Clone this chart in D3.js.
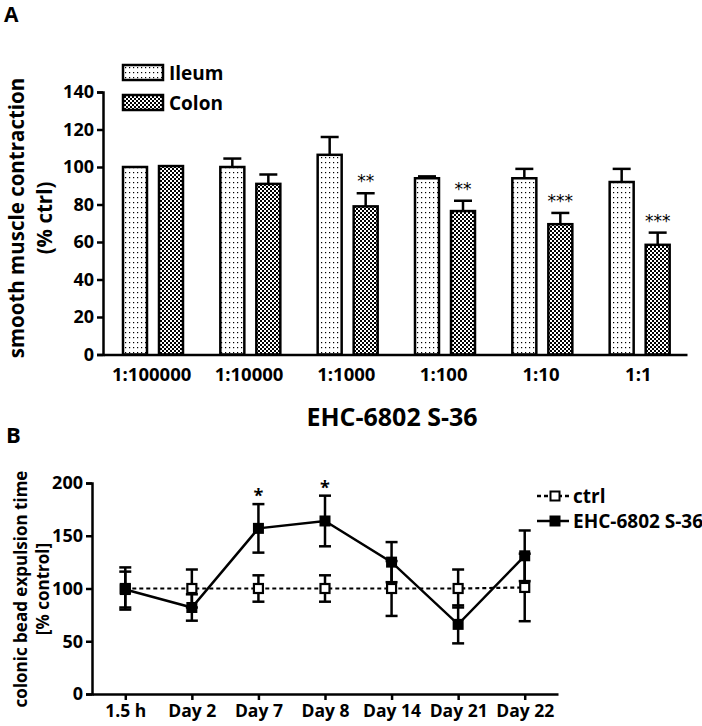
<!DOCTYPE html>
<html><head><meta charset="utf-8">
<script src="https://cdn.jsdelivr.net/npm/d3@7"></script>
<style>
body{margin:0;background:#fff}
svg{display:block}
text{font-family:'Open Sans',sans-serif;font-weight:700;fill:#000}
</style></head>
<body><svg id="c" width="702" height="726"></svg>
<script>
// ---------- Panel A data ----------
const dilutions = ["1:100000","1:10000","1:1000","1:100","1:10","1:1"];
const seriesA = ["Ileum","Colon"];
const ileum    = [100, 100, 106.5, 94, 94, 92];
const ileumErr = [0, 4.5, 9.5, 1, 5, 7];
const colon    = [100.5, 91, 79, 76.5, 69.5, 58.5];
const colonErr = [0, 5, 7, 5.5, 6, 6.5];
const colonSig = ["", "", "**", "**", "***", "***"];
const ticksA   = [0,20,40,60,80,100,120,140];

// ---------- Panel B data ----------
const days    = ["1.5 h","Day 2","Day 7","Day 8","Day 14","Day 21","Day 22"];
const ctrl    = [100, 100, 100, 100, 100, 100, 101];
const ctrlErr = [20, 18, 12.5, 12.5, 26, 18, 32];
const ehc     = [99, 82, 157, 164, 125, 66, 131];
const ehcErr  = [17, 12.5, 23, 24, 19, 18, 24];
const ehcSig  = ["", "", "*", "*", "", "", ""];
const ticksB  = [0,50,100,150,200];

const svg = d3.select("#c");
const defs = svg.append("defs");
const pI = defs.append("pattern").attr("id","dots").attr("patternUnits","userSpaceOnUse")
  .attr("width",4).attr("height",5);
pI.append("rect").attr("width",4).attr("height",5).attr("fill","#fff");
pI.append("rect").attr("x",1).attr("y",2).attr("width",1.2).attr("height",1.2).attr("fill","#000");
const pC = defs.append("pattern").attr("id","check").attr("patternUnits","userSpaceOnUse")
  .attr("width",4).attr("height",4);
pC.append("rect").attr("width",4).attr("height",4).attr("fill","#fff");
pC.append("rect").attr("x",0).attr("y",0).attr("width",2).attr("height",2).attr("fill","#000");
pC.append("rect").attr("x",2).attr("y",2).attr("width",2).attr("height",2).attr("fill","#000");
const fills = {Ileum:"url(#dots)", Colon:"url(#check)"};

function styleTicks(g, size){
  g.select(".domain").attr("stroke-width",2.5);
  g.selectAll(".tick line").attr("stroke-width",2.5);
  g.selectAll(".tick text").attr("font-size",size)
    .style("font-family","'Open Sans',sans-serif").style("font-weight",700).attr("fill","#000");
}

// ================= Panel A =================
const xA = d3.scaleBand().domain(dilutions).range([103,687]).padding(0);
const xA1 = d3.scaleBand().domain(seriesA).range([20,80]).paddingInner(1/3).paddingOuter(0);
const yA = d3.scaleLinear().domain([0,140]).range([354.5,92]);

svg.append("text").attr("x",4).attr("y",22).attr("font-size",21).text("A");

const gA = svg.append("g");
const rowsA = dilutions.map((d,i)=>[
  {cat:d,key:"Ileum",v:ileum[i],e:ileumErr[i],sig:""},
  {cat:d,key:"Colon",v:colon[i],e:colonErr[i],sig:colonSig[i]}
]).flat();

rowsA.forEach(r=>{
  const cx = xA(r.cat)+xA1(r.key)+xA1.bandwidth()/2;
  if(r.e>0){
    gA.append("line").attr("x1",cx).attr("x2",cx).attr("y1",yA(r.v)).attr("y2",yA(r.v+r.e))
      .attr("stroke","#000").attr("stroke-width",2.5);
    gA.append("line").attr("x1",cx-9).attr("x2",cx+9).attr("y1",yA(r.v+r.e)).attr("y2",yA(r.v+r.e))
      .attr("stroke","#000").attr("stroke-width",2.5);
  }
  if(r.sig){
    gA.append("text").attr("x",cx).attr("y",yA(r.v+r.e)-6).attr("text-anchor","middle")
      .attr("font-size",17).attr("fill","#000")
      .style("font-family","'DejaVu Sans',sans-serif").style("font-weight","400")
      .text(r.sig);
  }
});
gA.selectAll("rect.bar").data(rowsA).join("rect").attr("class","bar")
  .attr("x",r=>xA(r.cat)+xA1(r.key)).attr("width",xA1.bandwidth())
  .attr("y",r=>yA(r.v)).attr("height",r=>yA(0)-yA(r.v))
  .attr("fill",r=>fills[r.key]).attr("stroke","#000").attr("stroke-width",2.5);

const axA = svg.append("g").attr("transform","translate(103,0)")
  .call(d3.axisLeft(yA).tickValues(ticksA).tickSize(6).tickPadding(3));
styleTicks(axA, 18);

const axAx = svg.append("g").attr("transform","translate(0,354.5)")
  .call(d3.axisBottom(xA).tickSize(0).tickPadding(13));
styleTicks(axAx, 18.5);

svg.append("text").attr("transform","translate(24,218) rotate(-90)").attr("text-anchor","middle")
  .attr("font-size",20.5).text("smooth muscle contraction");
svg.append("text").attr("transform","translate(52,218) rotate(-90)").attr("text-anchor","middle")
  .attr("font-size",20.5).text("(% ctrl)");

seriesA.forEach((k,i)=>{
  const y0 = 65 + i*30;
  svg.append("rect").attr("x",123).attr("y",y0).attr("width",40).attr("height",15)
    .attr("fill",fills[k]).attr("stroke","#000").attr("stroke-width",2.5);
  svg.append("text").attr("x",169).attr("y",y0+15).attr("font-size",19).text(k);
});

svg.append("text").attr("x",392).attr("y",426).attr("text-anchor","middle").attr("font-size",25).text("EHC-6802 S-36");

// ================= Panel B =================
svg.append("text").attr("x",6).attr("y",443).attr("font-size",22).text("B");
const xB = d3.scalePoint().domain(days).range([92,558]).padding(0.5);
const yB = d3.scaleLinear().domain([0,200]).range([694,483]);

const axB = svg.append("g").attr("transform","translate(92,0)")
  .call(d3.axisLeft(yB).tickValues(ticksB).tickSize(6).tickPadding(3));
styleTicks(axB, 18);
const axBx = svg.append("g").attr("transform","translate(0,694)")
  .call(d3.axisBottom(xB).tickSize(6).tickPadding(5).tickSizeOuter(0));
styleTicks(axBx, 17.5);

svg.append("text").attr("transform","translate(27,589) rotate(-90)").attr("text-anchor","middle")
  .attr("font-size",17).text("colonic bead expulsion time");
svg.append("text").attr("transform","translate(49,589) rotate(-90)").attr("text-anchor","middle")
  .attr("font-size",17).text("[% control]");

const gB = svg.append("g");
const line = d3.line().x((d,i)=>xB(days[i])).y(d=>yB(d));
gB.append("path").datum(ctrl).attr("d",line).attr("fill","none").attr("stroke","#000")
  .attr("stroke-width",2.2).attr("stroke-dasharray","4,3");
gB.append("path").datum(ehc).attr("d",line).attr("fill","none").attr("stroke","#000")
  .attr("stroke-width",2.5);

function errBars(vals, errs){
  vals.forEach((v,i)=>{
    const cx = xB(days[i]);
    gB.append("line").attr("x1",cx).attr("x2",cx).attr("y1",yB(v-errs[i])).attr("y2",yB(v+errs[i]))
      .attr("stroke","#000").attr("stroke-width",2.5);
    [v-errs[i], v+errs[i]].forEach(e=>{
      gB.append("line").attr("x1",cx-6).attr("x2",cx+6).attr("y1",yB(e)).attr("y2",yB(e))
        .attr("stroke","#000").attr("stroke-width",2.5);
    });
  });
}
errBars(ctrl, ctrlErr);
errBars(ehc, ehcErr);

const ms = 9;
gB.selectAll("rect.c").data(ctrl).join("rect").attr("class","c")
  .attr("x",(d,i)=>xB(days[i])-ms/2).attr("y",d=>yB(d)-ms/2).attr("width",ms).attr("height",ms)
  .attr("fill","#fff").attr("stroke","#000").attr("stroke-width",2.2);
gB.selectAll("rect.e").data(ehc).join("rect").attr("class","e")
  .attr("x",(d,i)=>xB(days[i])-ms/2-1).attr("y",d=>yB(d)-ms/2-1).attr("width",ms+2).attr("height",ms+2)
  .attr("fill","#000");

ehcSig.forEach((s,i)=>{
  if(!s) return;
  gB.append("text").attr("x",xB(days[i])).attr("y",yB(ehc[i]+ehcErr[i])-2).attr("text-anchor","middle")
    .attr("font-size",18).text(s);
});

// legend B
const legB = [{k:"ctrl",dash:"4,3",fill:"#fff"},{k:"EHC-6802 S-36",dash:null,fill:"#000"}];
legB.forEach((l,i)=>{
  const y0 = 496 + i*25;
  svg.append("line").attr("x1",537).attr("x2",569).attr("y1",y0).attr("y2",y0)
    .attr("stroke","#000").attr("stroke-width",2.5).attr("stroke-dasharray",l.dash);
  svg.append("rect").attr("x",555-4.5).attr("y",y0-4.5).attr("width",9).attr("height",9)
    .attr("fill",l.fill).attr("stroke","#000").attr("stroke-width",2);
  svg.append("text").attr("x",573).attr("y",y0+6.5).attr("font-size",19).text(l.k);
});
</script></body></html>
